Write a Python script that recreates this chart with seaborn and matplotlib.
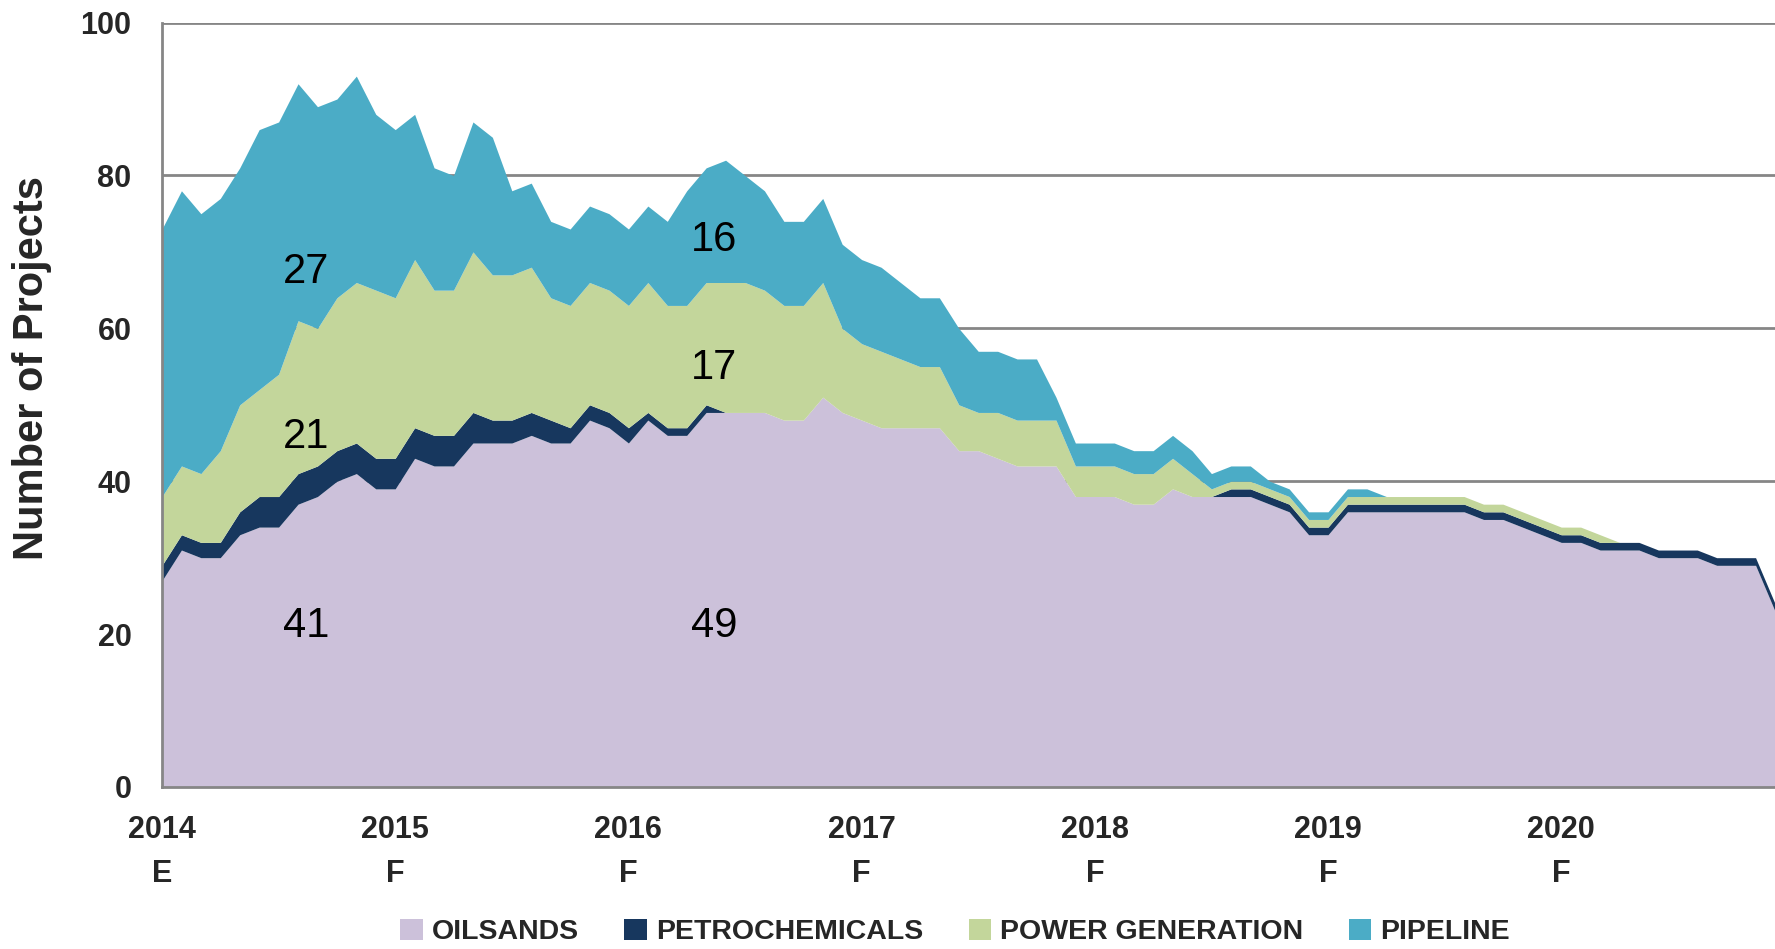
import matplotlib
matplotlib.use("Agg")
import matplotlib.pyplot as plt
from matplotlib.patches import Patch
import seaborn as sns
import numpy as np

# monthly, Jan 2014 .. Dec 2020
oilsands = [27, 31, 30, 30, 33, 34, 34, 37, 38, 40, 41, 39, 39,
            43, 42, 42, 45, 45, 45, 46, 45, 45, 48, 47, 45,
            48, 46, 46, 49, 49, 49, 49, 48, 48, 51, 49, 48,
            47, 47, 47, 47, 44, 44, 43, 42, 42, 42, 38, 38,
            38, 37, 37, 39, 38, 38, 38, 38, 37, 36, 33, 33,
            36, 36, 36, 36, 36, 36, 36, 35, 35, 34, 33, 32,
            32, 31, 31, 31, 30, 30, 30, 29, 29, 29, 23]
petrochemicals = [2, 2, 2, 2, 3, 4, 4, 4, 4, 4, 4, 4, 4,
                  4, 4, 4, 4, 3, 3, 3, 3, 2, 2, 2, 2,
                  1, 1, 1, 1, 0, 0, 0, 0, 0, 0, 0, 0,
                  0, 0, 0, 0, 0, 0, 0, 0, 0, 0, 0, 0,
                  0, 0, 0, 0, 0, 0, 1, 1, 1, 1, 1, 1,
                  1, 1, 1, 1, 1, 1, 1, 1, 1, 1, 1, 1,
                  1, 1, 1, 1, 1, 1, 1, 1, 1, 1, 1]
power_generation = [9, 9, 9, 12, 14, 14, 16, 20, 18, 20, 21, 22, 21,
                    22, 19, 19, 21, 19, 19, 19, 16, 16, 16, 16, 16,
                    17, 16, 16, 16, 17, 17, 16, 15, 15, 15, 11, 10,
                    10, 9, 8, 8, 6, 5, 6, 6, 6, 6, 4, 4,
                    4, 4, 4, 4, 3, 1, 1, 1, 1, 1, 1, 1,
                    1, 1, 1, 1, 1, 1, 1, 1, 1, 1, 1, 1,
                    1, 1, 0, 0, 0, 0, 0, 0, 0, 0, 0]
pipeline = [35, 36, 34, 33, 31, 34, 33, 31, 29, 26, 27, 23, 22,
            19, 16, 15, 17, 18, 11, 11, 10, 10, 10, 10, 10,
            10, 11, 15, 15, 16, 14, 13, 11, 11, 11, 11, 11,
            11, 10, 9, 9, 10, 8, 8, 8, 8, 3, 3, 3,
            3, 3, 3, 3, 3, 2, 2, 2, 1, 1, 1, 1,
            1, 1, 0, 0, 0, 0, 0, 0, 0, 0, 0, 0,
            0, 0, 0, 0, 0, 0, 0, 0, 0, 0, 0]

series_names = ["OILSANDS", "PETROCHEMICALS", "POWER GENERATION", "PIPELINE"]
colors = ["#CCC1DA", "#17375E", "#C3D69B", "#4BACC6"]

year_labels = ["2014\nE", "2015\nF", "2016\nF", "2017\nF", "2018\nF", "2019\nF", "2020\nF"]

# callouts: (month, value, text)
callouts = [(7.4, 67.4, "27"), (7.4, 45.8, "21"), (7.4, 21.0, "41"),
            (28.4, 71.6, "16"), (28.4, 54.8, "17"), (28.4, 21.0, "49")]

sns.set_theme(style="white")
plt.rcParams["font.family"] = ["Liberation Sans", "DejaVu Sans"]

months = np.arange(len(oilsands))

fig = plt.figure(figsize=(17.75, 9.49), dpi=100)
ax = fig.add_axes([162 / 1775, 1 - 787 / 949, 1 - 162 / 1775, (787 - 22.6) / 949])

ax.stackplot(months, oilsands, petrochemicals, power_generation, pipeline,
             colors=colors, linewidth=0, zorder=2)

ax.set_xlim(0, len(oilsands) - 1)
ax.set_ylim(0, 100)
ax.set_yticks(range(0, 101, 20))
ax.set_yticklabels([str(v) for v in range(0, 101, 20)], fontsize=22, fontweight="bold")
ax.set_xticks(range(0, len(oilsands), 12))
ax.set_xticklabels(year_labels, fontsize=22, fontweight="bold", linespacing=1.6)
ax.tick_params(axis="both", length=0)
ax.tick_params(axis="x", pad=20)
ax.tick_params(axis="y", pad=22)

ax.yaxis.grid(True, color="#868686", linewidth=2, zorder=0)
ax.set_axisbelow(True)
for side in ["top", "right"]:
    ax.spines[side].set_visible(False)
for side in ["left", "bottom"]:
    ax.spines[side].set_color("#868686")
    ax.spines[side].set_linewidth(2)

ax.set_ylabel("Number of Projects", fontsize=30, fontweight="bold")
ax.yaxis.set_label_coords(-0.068, 0.548)

for mx, my, txt in callouts:
    ax.text(mx, my, txt, fontsize=30, ha="center", va="center", color="black", zorder=3)

handles = [Patch(facecolor=c, edgecolor="none") for c in colors]
fig.legend(handles, series_names, loc="center", bbox_to_anchor=(955 / 1775, 1 - 932 / 949),
           ncol=4, frameon=False, handlelength=0.8, handleheight=0.8, handletextpad=0.3,
           columnspacing=1.6, prop={"size": 20.5, "weight": "bold"})

fig.savefig("out.png", dpi=100)
